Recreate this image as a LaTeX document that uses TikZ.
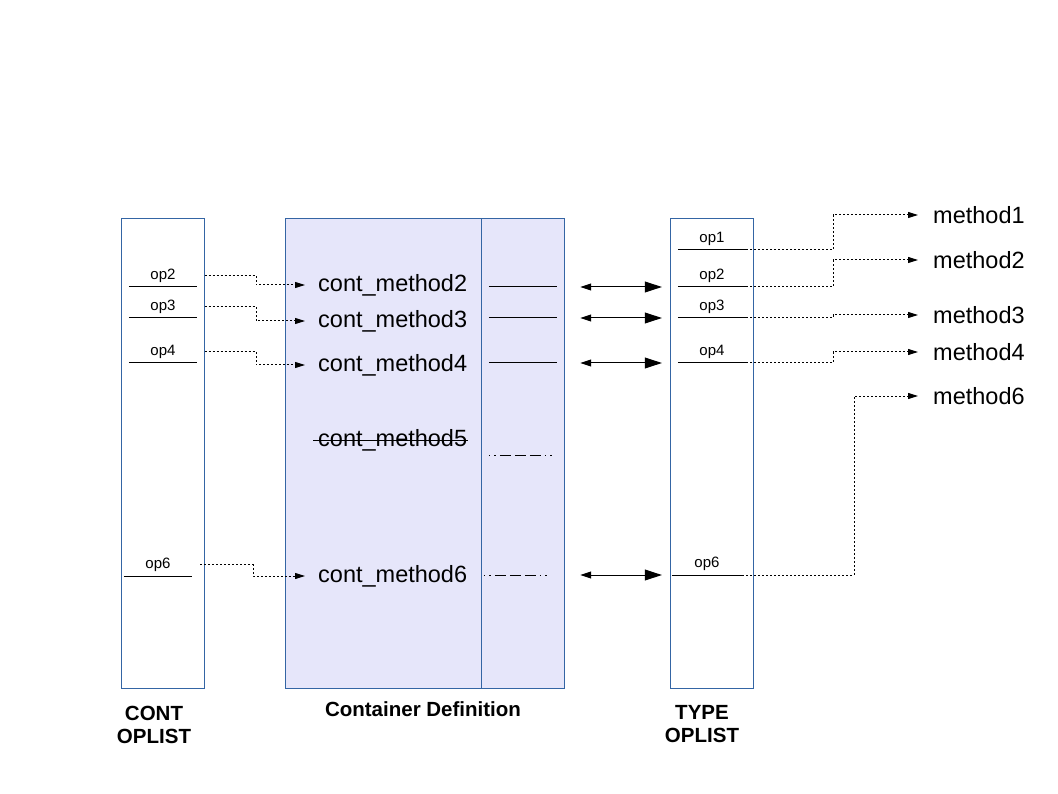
\documentclass[tikz,border=0pt]{standalone}
\usepackage{fontspec}
\setmainfont{Liberation Sans}
\usepackage{tikz}
\usetikzlibrary{arrows.meta,calc,positioning}
\definecolor{boxblue}{RGB}{52,101,164}
\definecolor{contfill}{RGB}{230,230,250}

\begin{document}
\begin{tikzpicture}[x=1pt,y=-1pt,
  oplist/.style={draw=boxblue,line width=1pt,minimum width=83pt,minimum height=469pt,inner sep=0pt},
  op/.style={anchor=south,minimum width=68pt,text height=10.5pt,text depth=3pt,inner xsep=0pt,inner ysep=4.5pt,font=\fontsize{15}{17}\selectfont},
  meth/.style={anchor=west,inner xsep=13pt,font=\fontsize{23.5}{28}\selectfont},
  title/.style={align=center,font=\fontsize{20.5}{23}\selectfont\bfseries},
  dots/.style={dash pattern=on 2pt off 2pt,line width=1pt,-{Triangle[length=10pt,width=6pt]}},
  both/.style={line width=1pt,{Triangle[length=11pt,width=7pt]}-{Triangle[length=17pt,width=11pt]}},
  dashdot/.style={dash pattern=on 1.5pt off 4pt on 1.5pt off 4pt on 11pt off 4pt on 11pt off 4pt on 11pt off 4pt on 1.5pt off 4pt on 1.5pt off 30pt}]
\useasboundingbox (0,0) rectangle (1058,794);
\node[oplist] (LB) at (162.5,453.5) {};
\node[oplist,fill=contfill,minimum width=279pt] (CD) at (424.5,453.5) {};
\node[oplist] (TB) at (711.5,453.5) {};
\coordinate (D) at (481,0);
\coordinate (K1) at (256,0);
\coordinate (K2) at (833,0);
\coordinate (K3) at (854,0);
\coordinate (K4) at (253,0);
\draw[boxblue,line width=1pt] (CD.north -| D) -- (CD.south -| D);
% cont oplist
\node[op] (P2) at (163,287) {op2};
\node[op] (P3) at (163,318) {op3};
\node[op] (P4) at (163,363) {op4};
\node[op] (P6) at (158,576) {op6};
% container definition
\node[meth] (C2) at (305,285) {cont\_method2};
\node[meth] (C3) at (305,321) {cont\_method3};
\node[meth] (C4) at (305,365) {cont\_method4};
\node[meth] (C5) at (305,440) {cont\_method5};
\node[meth] (C6) at (305,576) {cont\_method6};
\node[op] (R2) at (523,287) {};
\node[op] (R3) at (523,318) {};
\node[op] (R4) at (523,363) {};
\node[op,minimum width=66pt] (R5) at (522,455) {};
\node[op,minimum width=66pt] (R6) at (517,575) {};
% type oplist
\node[op] (T1) at (712,250) {op1};
\node[op] (T2) at (712,287) {op2};
\node[op] (T3) at (712,318) {op3};
\node[op] (T4) at (712,363) {op4};
\node[op,minimum width=70pt] (T6) at (707,575) {op6};
\node[meth,inner xsep=15pt] (M1) at (918,215) {method1};
\node[meth,inner xsep=15pt] (M2) at (918,260) {method2};
\node[meth,inner xsep=15pt] (M3) at (918,315) {method3};
\node[meth,inner xsep=15pt] (M4) at (918,352) {method4};
\node[meth,inner xsep=15pt] (M6) at (918,396) {method6};
% titles
\node[title] (N1) at (154,724.5) {CONT\\OPLIST};
\node[title] (N2) at (423,709) {Container Definition};
\node[title] (N3) at (702,724.5) {TYPE\\OPLIST};

\path[line width=1pt]
(P2.south west) edge (P2.south east)
(P3.south west) edge (P3.south east)
(P4.south west) edge (P4.south east)
(P6.south west) edge (P6.south east)
(R2.south west) edge (R2.south east)
(R3.south west) edge (R3.south east)
(R4.south west) edge (R4.south east)
(R5.south west) edge[dashdot] (R5.south east)
(R6.south west) edge[dashdot] (R6.south east)
(T1.south west) edge (T1.south east)
(T2.south west) edge (T2.south east)
(T3.south west) edge (T3.south east)
(T4.south west) edge (T4.south east)
(T6.south west) edge (T6.south east)
(C5.west) edge[shorten <=8pt,shorten >=12pt] (C5.east);

\path[both]
(R2.south east) edge[shorten <=23pt,shorten >=16pt] (T2.south west)
(R3.south east) edge[shorten <=23pt,shorten >=16pt] (T3.south west)
(R4.south east) edge[shorten <=23pt,shorten >=16pt] (T4.south west)
(R6.south east) edge[shorten <=30pt,shorten >=10pt] (T6.south west);

\draw[dots] (P2 -| LB.east) -- (P2 -| K1) |- (C2.west);
\draw[dots] (P3 -| LB.east) -- (P3 -| K1) |- (C3.west);
\draw[dots] (P4 -| LB.east) -- (P4 -| K1) |- (C4.west);
\draw[dots,shorten <=8pt] (P6.east) -- (P6 -| K4) |- (C6.west);
\draw[dots] (T1.south east) -- (T1.south east -| K2) |- (M1.west);
\draw[dots] (T2.south east) -- (T2.south east -| K2) |- (M2.west);
\draw[dots] (T3.south east) -- (T3.south east -| K2) |- (M3.west);
\draw[dots] (T4.south east) -- (T4.south east -| K2) |- (M4.west);
\draw[dots] (T6.south east) -- (T6.south east -| K3) |- (M6.west);
\end{tikzpicture}
\end{document}
